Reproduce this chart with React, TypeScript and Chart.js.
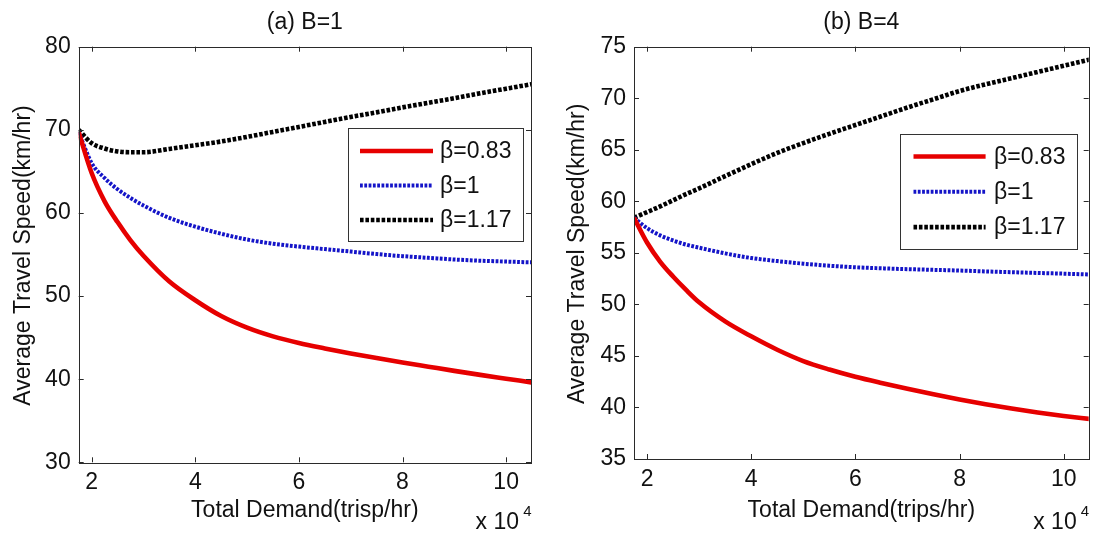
import React, { useEffect, useRef } from 'react';
import { Chart, registerables } from 'chart.js';

Chart.register(...registerables);

// ---------- data ----------
const demandX = [1.75, 2, 2.25, 2.5, 2.75, 3, 3.5, 4, 4.5, 5, 5.5, 6, 6.5, 7, 7.5, 8, 8.5, 9, 9.5, 10, 10.5];

// (a) B=1
const speedA083 = [69.7, 64.8, 61.4, 58.9, 56.7, 54.85, 51.75, 49.5, 47.6, 46.2, 45.15, 44.35, 43.7, 43.1, 42.55, 42.0, 41.5, 41.0, 40.52, 40.06, 39.6];
const speedA100 = [69.7, 66.0, 64.2, 62.85, 61.8, 60.9, 59.4, 58.35, 57.5, 56.8, 56.3, 55.95, 55.65, 55.35, 55.05, 54.8, 54.6, 54.4, 54.25, 54.15, 54.05];
const speedA117 = [70.0, 68.4, 67.75, 67.4, 67.3, 67.3, 67.7, 68.15, 68.6, 69.15, 69.75, 70.35, 70.95, 71.55, 72.1, 72.7, 73.25, 73.8, 74.4, 74.95, 75.5];

// (b) B=4
const speedB083 = [58.4, 56.0, 54.15, 52.7, 51.4, 50.2, 48.35, 46.9, 45.6, 44.5, 43.68, 42.98, 42.38, 41.82, 41.28, 40.78, 40.32, 39.9, 39.52, 39.18, 38.88];
const speedB100 = [58.4, 57.4, 56.7, 56.2, 55.8, 55.5, 54.95, 54.5, 54.2, 53.95, 53.75, 53.6, 53.5, 53.42, 53.35, 53.28, 53.2, 53.12, 53.05, 52.98, 52.9];
const speedB117 = [58.4, 58.95, 59.5, 60.1, 60.7, 61.25, 62.45, 63.6, 64.7, 65.65, 66.55, 67.4, 68.25, 69.1, 69.9, 70.7, 71.35, 71.95, 72.55, 73.15, 73.75];

const seriesLabels = ['β=0.83', 'β=1', 'β=1.17'];
const xTickValues = [2, 4, 6, 8, 10];
const yTicksA = [30, 40, 50, 60, 70, 80];
const yTicksB = [35, 40, 45, 50, 55, 60, 65, 70, 75];
const panelTitles = ['(a) B=1', '(b) B=4'];
const xAxisTitles = ['Total Demand(trisp/hr)', 'Total Demand(trips/hr)'];
const yAxisTitle = 'Average Travel Speed(km/hr)';
const xExponentBase = 'x 10';
const xExponent = '4';

// ---------- styles ----------
const FONT = '"Liberation Sans", Arial, Helvetica, sans-serif';
const TEXT = '#111111';
const AXIS = '#2a2a2a';
const styles = [
  { color: '#e60000', width: 4.6, dash: [] as number[] },
  { color: '#1414c8', width: 4, dash: [2.8, 1.5] },
  { color: '#000000', width: 4.6, dash: [3.6, 1.8] },
];

const decorPlugin = {
  id: 'decor',
  afterDatasetsDraw(chart: any, _args: any, o: any) {
    const ctx = chart.ctx as CanvasRenderingContext2D;
    const { left, right, top, bottom } = chart.chartArea;
    const xs = chart.scales.x;
    const ys = chart.scales.y;
    ctx.save();
    ctx.setLineDash([]);
    ctx.strokeStyle = AXIS;
    ctx.lineWidth = 1;
    // inward ticks
    ctx.beginPath();
    for (const v of o.xTicks) {
      const p = Math.round(xs.getPixelForValue(v)) + 0.5;
      ctx.moveTo(p, bottom); ctx.lineTo(p, bottom - 5);
      ctx.moveTo(p, top); ctx.lineTo(p, top + 5);
    }
    for (const v of o.yTicks) {
      const p = Math.round(ys.getPixelForValue(v)) + 0.5;
      ctx.moveTo(left, p); ctx.lineTo(left + 5, p);
      ctx.moveTo(right, p); ctx.lineTo(right - 5, p);
    }
    ctx.stroke();
    // box
    ctx.strokeRect(Math.round(left) + 0.5, Math.round(top) + 0.5, Math.round(right - left), Math.round(bottom - top));

    // legend
    const L = o.legend;
    ctx.fillStyle = '#ffffff';
    ctx.fillRect(L.x, L.y, L.w, L.h);
    ctx.strokeStyle = '#333333';
    ctx.strokeRect(Math.round(L.x) + 0.5, Math.round(L.y) + 0.5, Math.round(L.w), Math.round(L.h));
    chart.data.datasets.forEach((ds: any, i: number) => {
      const ry = L.firstRow + i * L.rowGap;
      ctx.save();
      ctx.strokeStyle = ds.borderColor;
      ctx.lineWidth = ds.borderWidth;
      ctx.setLineDash(ds.borderDash || []);
      ctx.lineCap = 'butt';
      ctx.beginPath();
      ctx.moveTo(L.lineX1, ry);
      ctx.lineTo(L.lineX2, ry);
      ctx.stroke();
      ctx.restore();
      ctx.fillStyle = TEXT;
      ctx.font = `23px ${FONT}`;
      ctx.textAlign = 'left';
      ctx.textBaseline = 'middle';
      ctx.fillText(ds.label, L.textX, ry + 1);
    });

    // texts
    const cx = (left + right) / 2;
    ctx.fillStyle = TEXT;
    ctx.font = `23px ${FONT}`;
    ctx.textAlign = 'center';
    ctx.textBaseline = 'middle';
    ctx.fillText(o.title, cx, 23);
    ctx.fillText(o.xTitle, cx, 511);
    ctx.save();
    ctx.translate(o.yTitleX, (top + bottom) / 2 + 1);
    ctx.rotate(-Math.PI / 2);
    ctx.fillText(o.yTitle, 0, 0);
    ctx.restore();
    // exponent
    ctx.textAlign = 'right';
    ctx.fillText(xExponentBase, right - 12, 523);
    ctx.font = `15px ${FONT}`;
    ctx.fillText(xExponent, right + 0.5, 512);
    ctx.restore();
  },
};

function makeConfig(p: any) {
  return {
    type: 'line' as const,
    data: {
      datasets: p.series.map((s: number[], i: number) => ({
        label: seriesLabels[i],
        data: demandX.map((x, k) => ({ x, y: s[k] })),
        borderColor: styles[i].color,
        borderWidth: styles[i].width,
        borderDash: styles[i].dash,
        borderCapStyle: 'butt',
        pointRadius: 0,
        fill: false,
        cubicInterpolationMode: 'monotone',
      })),
    },
    options: {
      responsive: false,
      animation: false,
      events: [],
      layout: { padding: { left: 0, right: p.padRight, top: 46.7, bottom: 0 } },
      plugins: {
        legend: { display: false },
        title: { display: false },
        tooltip: { enabled: false },
        decor: {
          xTicks: xTickValues,
          yTicks: p.yTicks,
          legend: p.legend,
          title: p.title,
          xTitle: p.xTitle,
          yTitle: yAxisTitle,
          yTitleX: p.yTitleX,
        },
      },
      scales: {
        x: {
          type: 'linear',
          min: 1.75,
          max: 10.48,
          grid: { display: false, drawTicks: false },
          border: { display: false },
          ticks: { color: TEXT, font: { size: 23, family: FONT }, padding: 7, maxRotation: 0 },
          afterBuildTicks: (s: any) => { s.ticks = xTickValues.map((v) => ({ value: v })); },
          afterFit: (s: any) => { s.height = p.xHeight; },
        },
        y: {
          type: 'linear',
          min: p.yTicks[0],
          max: p.yTicks[p.yTicks.length - 1],
          grid: { display: false, drawTicks: false },
          border: { display: false },
          ticks: { color: TEXT, font: { size: 23, family: FONT }, padding: 8 },
          afterBuildTicks: (s: any) => { s.ticks = p.yTicks.map((v: number) => ({ value: v })); },
          afterFit: (s: any) => { s.width = p.yWidth; },
        },
      },
    },
    plugins: [decorPlugin],
  };
}

const panels = [
  {
    series: [speedA083, speedA100, speedA117],
    yTicks: yTicksA,
    title: panelTitles[0],
    xTitle: xAxisTitles[0],
    yWidth: 78.7,
    padRight: 18,
    xHeight: 533 - 462.3,
    yTitleX: 24,
    legend: { x: 347.7, y: 128, w: 175.3, h: 113, firstRow: 151, rowGap: 34.5, lineX1: 360, lineX2: 433, textX: 440 },
  },
  {
    series: [speedB083, speedB100, speedB117],
    yTicks: yTicksB,
    title: panelTitles[1],
    xTitle: xAxisTitles[1],
    yWidth: 85,
    padRight: 9.3,
    xHeight: 533 - 459,
    yTitleX: 28.7,
    legend: { x: 350.5, y: 133.7, w: 176.8, h: 114.6, firstRow: 156.5, rowGap: 35.3, lineX1: 364.5, lineX2: 436.6, textX: 445 },
  },
];

function Panel({ cfg, left }: { cfg: any; left: number }) {
  const ref = useRef<HTMLCanvasElement | null>(null);
  useEffect(() => {
    if (!ref.current) return;
    const chart = new Chart(ref.current, makeConfig(cfg) as any);
    return () => chart.destroy();
  }, [cfg]);
  return (
    <canvas
      ref={ref}
      width={549}
      height={533}
      style={{ position: 'absolute', left, top: 0, width: 549, height: 533, display: 'block' }}
    />
  );
}

export default function App() {
  return (
    <div style={{ position: 'fixed', left: 0, top: 0, width: 1098, height: 533, background: '#ffffff', overflow: 'hidden' }}>
      <Panel cfg={panels[0]} left={0} />
      <Panel cfg={panels[1]} left={549} />
    </div>
  );
}
